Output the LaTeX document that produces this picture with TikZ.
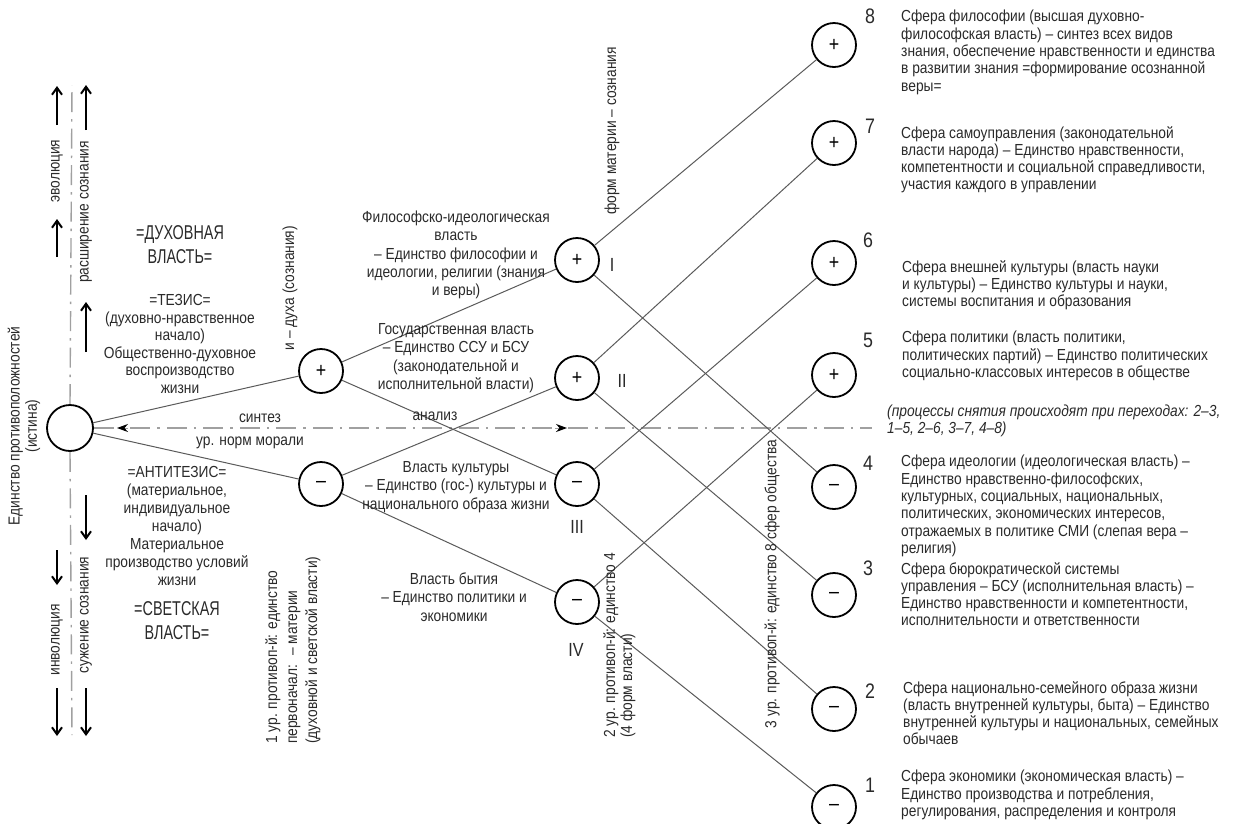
\documentclass[tikz,border=0pt]{standalone}
\usepackage{fontspec}
\setmainfont{Liberation Sans}[FakeStretch=0.86]
\newfontfamily\bigf{Liberation Sans}[FakeStretch=0.72]
\newfontfamily\numf{Liberation Sans}[FakeStretch=0.85]
\usetikzlibrary{arrows.meta}
\definecolor{ink}{HTML}{2A2A2A}
\definecolor{wire}{HTML}{5A5A5A}
\definecolor{dd}{HTML}{A0A0A0}
\begin{document}
\begin{tikzpicture}[x=1pt,y=-1pt,
  circ/.style={circle, draw=black, line width=1.8pt, minimum size=44pt, inner sep=0pt, font=\numf\fontsize{21}{21}\selectfont},
  rootc/.style={circ, minimum size=46pt},
  link/.style={draw=wire, line width=1pt},
  dashdot/.style={draw=dd, line width=1.4pt, dash pattern=on 20pt off 7pt on 2.5pt off 7pt},
  txt/.style={font=\fontsize{16}{17.3}\selectfont, inner sep=0pt, text=ink},
  lbl/.style={txt, align=left, anchor=north west},
  mid/.style={txt, align=center, font=\fontsize{16}{18.3}\selectfont},
  num/.style={font=\numf\fontsize{21}{21}\selectfont, inner sep=0pt, text=ink},
  rom/.style={font=\numf\fontsize{19}{19}\selectfont, inner sep=0pt, text=ink},
  big/.style={txt, align=center, font=\bigf\fontsize{20}{24}\selectfont},
  varrow/.style={draw=black, line width=2pt, -{Straight Barb[length=7pt,width=10pt,line width=2pt]}},
  ddtip/.style={draw=dd, line width=1pt, -{Stealth[length=11pt,width=8pt,color=black]}},
]
\useasboundingbox (0,0) rectangle (1233,823);

% circles
\node[rootc] (R) at (70,428) {};
\node[circ] (P) at (321,371) {+};
\node[circ] (M) at (321,484) {–};
\node[circ] (I) at (577,260) {+};
\node[circ] (II) at (577,378) {+};
\node[circ] (III) at (577,484) {–};
\node[circ] (IV) at (577,602) {–};
\node[circ] (s8) at (834,45) {+};
\node[circ] (s7) at (834,143) {+};
\node[circ] (s6) at (834,263) {+};
\node[circ] (s5) at (834,375) {+};
\node[circ] (s4) at (834,487) {–};
\node[circ] (s3) at (834,595) {–};
\node[circ] (s2) at (834,709) {–};
\node[circ] (s1) at (834,807) {–};

% dash-dot axes
\coordinate (hE) at (872,428);
\coordinate (vT) at (72,85);
\coordinate (vB) at (72,735);
\draw[dashdot] (R.east) -- (hE);
\draw[dashdot] (R.north) -- (vT);
\draw[dashdot] (R.south) -- (vB);
\coordinate (a1s) at (128,428); \coordinate (a1e) at (117,428);
\coordinate (a2s) at (555,428); \coordinate (a2e) at (567,428);
\draw[ddtip] (a1s) -- (a1e);
\draw[ddtip] (a2s) -- (a2e);

% connectors
\draw[link] (R) -- (P);
\draw[link] (R) -- (M);
\draw[link] (P) -- (I);
\draw[link] (P) -- (III);
\draw[link] (M) -- (II);
\draw[link] (M) -- (IV);
\draw[link] (I) -- (s8);
\draw[link] (I) -- (s4);
\draw[link] (II) -- (s7);
\draw[link] (II) -- (s3);
\draw[link] (III) -- (s6);
\draw[link] (III) -- (s2);
\draw[link] (IV) -- (s5);
\draw[link] (IV) -- (s1);

% vertical arrows
\coordinate (u1a) at (57,125); \coordinate (u1b) at (57,86);
\coordinate (u2a) at (57,257); \coordinate (u2b) at (57,219);
\coordinate (u3a) at (86,130); \coordinate (u3b) at (86,85);
\coordinate (u4a) at (86,352); \coordinate (u4b) at (86,302);
\coordinate (d1a) at (86,495); \coordinate (d1b) at (86,540);
\coordinate (d2a) at (86,688); \coordinate (d2b) at (86,736);
\coordinate (d3a) at (57,550); \coordinate (d3b) at (57,585);
\coordinate (d4a) at (57,688); \coordinate (d4b) at (57,736);
\draw[varrow] (u1a) -- (u1b);
\draw[varrow] (u2a) -- (u2b);
\draw[varrow] (u3a) -- (u3b);
\draw[varrow] (u4a) -- (u4b);
\draw[varrow] (d1a) -- (d1b);
\draw[varrow] (d2a) -- (d2b);
\draw[varrow] (d3a) -- (d3b);
\draw[varrow] (d4a) -- (d4b);
\node[txt, rotate=90] (evo) at (57,171) {эволюция};
\node[txt, rotate=90] (ras) at (86,212) {расширение сознания};
\node[txt, rotate=90] (inv) at (57,640) {инволюция};
\node[txt, rotate=90] (suz) at (86,615) {сужение сознания};
\node[txt, rotate=90, align=center] (edin) at (24,426) {Единство противоположностей\\(истина)};

% left texts
\node[big] (duh) at (180,245) {=ДУХОВНАЯ\\ВЛАСТЬ=};
\node[mid, font=\fontsize{16}{17.5}\selectfont] (tez) at (180,344) {=ТЕЗИС=\\(духовно-нравственное\\начало)\\Общественно-духовное\\воспроизводство\\жизни};
\node[mid, font=\fontsize{16}{18}\selectfont] (anti) at (177,526) {=АНТИТЕЗИС=\\(материальное,\\индивидуальное\\начало)\\Материальное\\производство условий\\жизни};
\node[big] (svet) at (177,621) {=СВЕТСКАЯ\\ВЛАСТЬ=};
\node[txt] (sint) at (260,418) {синтез};
\node[txt] (norm) at (250,443) {ур. норм морали};
\node[txt] (anal) at (435,416) {анализ};

% level 1 vertical texts
\node[txt, rotate=90] (duhsoz) at (290,288) {и -- духа (сознания)};
\node[txt, rotate=90, align=left, anchor=north west, font=\fontsize{16}{20}\selectfont] (ur1) at (265,744) {1 ур. противоп-й: единство\\первоначал: \ -- материи\\(духовной и светской власти)};

% middle texts
\node[mid] (t1) at (456,255) {Философско-идеологическая\\власть\\-- Единство философии и\\идеологии, религии (знания\\и веры)};
\node[mid] (t2) at (456,358) {Государственная власть\\-- Единство ССУ и БСУ\\(законодательной и\\исполнительной власти)};
\node[mid] (t3) at (456,487) {Власть культуры\\-- Единство (гос-) культуры и\\национального образа жизни};
\node[mid] (t4) at (454,597) {Власть бытия\\-- Единство политики и\\экономики};

% level 2 labels
\node[rom] (rI) at (612,265) {I};
\node[rom] (rII) at (622,381) {II};
\node[rom] (rIII) at (577,527) {III};
\node[rom] (rIV) at (576,650) {IV};
\node[txt, rotate=90] (fm) at (612,131) {форм материи -- сознания};
\node[txt, rotate=90, align=left, anchor=north west, font=\fontsize{16}{17}\selectfont] (ur2) at (603,738) {2 ур. противоп-й: единство 4\\(4 форм власти)};
\node[txt, rotate=90] (ur3) at (772,584) {3 ур. противоп-й: единство 8 сфер общества};

% numbers
\node[num] (n8) at (870,16) {8};
\node[num] (n7) at (870,126) {7};
\node[num] (n6) at (868,240) {6};
\node[num] (n5) at (868,340) {5};
\node[num] (n4) at (868,463) {4};
\node[num] (n3) at (868,568) {3};
\node[num] (n2) at (870,691) {2};
\node[num] (n1) at (870,785) {1};

% right descriptions
\node[lbl] (d8) at (901,10) {Сфера философии (высшая духовно-\\философская власть) -- синтез всех видов\\знания, обеспечение нравственности и единства\\в развитии знания =формирование осознанной\\веры=};
\node[lbl] (d7) at (901,126) {Сфера самоуправления (законодательной\\власти народа) -- Единство нравственности,\\компетентности и социальной справедливости,\\участия каждого в управлении};
\node[lbl] (d6) at (902,260) {Сфера внешней культуры (власть науки\\и культуры) -- Единство культуры и науки,\\системы воспитания и образования};
\node[lbl] (d5) at (902,331) {Сфера политики (власть политики,\\политических партий) -- Единство политических\\социально-классовых интересов в обществе};
\node[lbl, font=\itshape\fontsize{16}{16.5}\selectfont] (note) at (887,405) {(процессы снятия происходят при переходах: 2--3,\\1--5, 2--6, 3--7, 4--8)};
\node[lbl] (d4) at (901,455) {Сфера идеологии (идеологическая власть) --\\Единство нравственно-философских,\\культурных, социальных, национальных,\\политических, экономических интересов,\\отражаемых в политике СМИ (слепая вера --\\религия)};
\node[lbl] (d3) at (901,562) {Сфера бюрократической системы\\управления -- БСУ (исполнительная власть) --\\Единство нравственности и компетентности,\\исполнительности и ответственности};
\node[lbl] (d2) at (903,681) {Сфера национально-семейного образа жизни\\(власть внутренней культуры, быта) -- Единство\\внутренней культуры и национальных, семейных\\обычаев};
\node[lbl] (d1) at (901,770) {Сфера экономики (экономическая власть) --\\Единство производства и потребления,\\регулирования, распределения и контроля};
\end{tikzpicture}
\end{document}
